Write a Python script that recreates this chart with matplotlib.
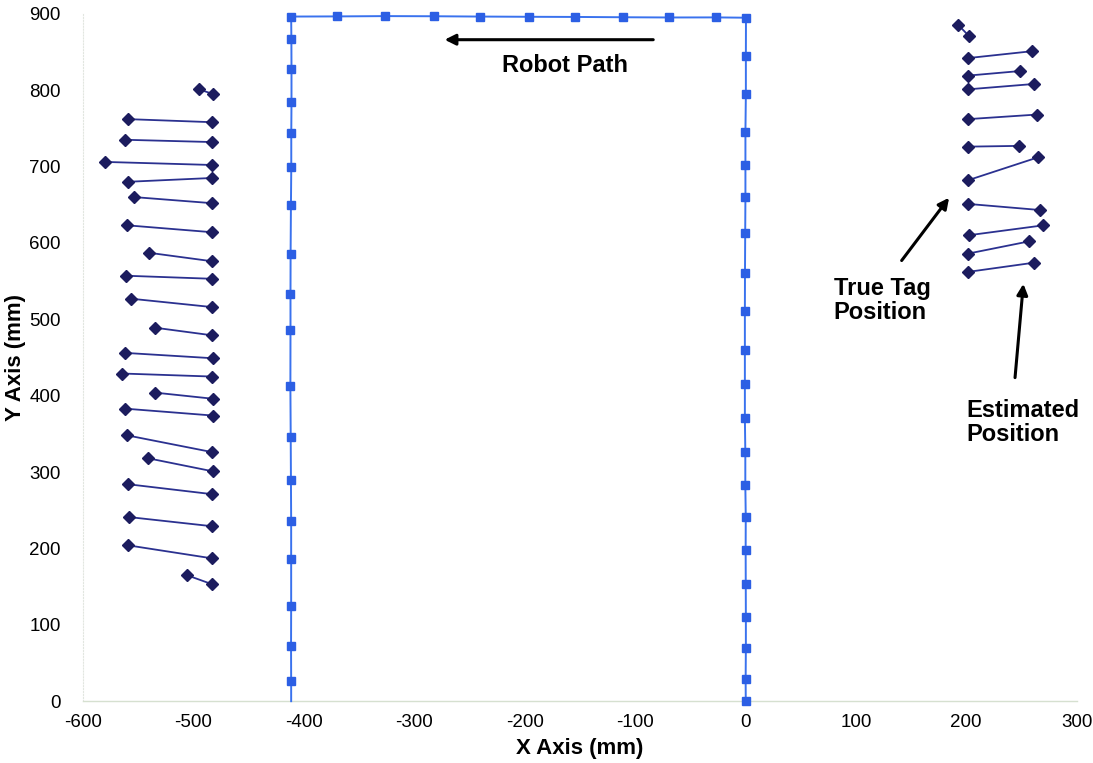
import matplotlib.pyplot as plt

'''
Tag localisation along the robot path: true tag positions vs the estimates
'''

# robot path, walked up the right side, across the top, down the left side (mm)
path_x = [0.3, 0.2, 0.4, 0.4, 0.3, 0.2, 0.3, -0.1, -0.1, -0.5, -0.5, -0.5, -0.5, -0.4, -0.2, 0.0, 0.0, 0.0, 0.4, 0.4, 0.5,
          -26.8, -69.2, -110.7, -154.2, -195.6, -240.5, -282.0, -326.1, -370.0, -411.5,
          -411.3, -411.2, -411.2, -411.4, -411.4, -411.7, -412.0, -412.1, -412.1, -412.2, -411.9, -411.7, -411.5, -411.5,
          -411.5, -411.6, -411.5]
path_y = [0, 28.5, 70, 109.6, 153.3, 197.8, 241.5, 283, 326.5, 371, 415.1, 459.6, 511.1, 560.8, 613.6, 660.3, 701.7,
          745.3, 794.6, 844.7, 894.8,
          895.2, 895.1, 895.4, 895.8, 896.0, 896.3, 896.7, 896.9, 896.5, 896.3,
          867, 827.3, 784.2, 743.6, 698.7, 649, 585.3, 533, 485.7, 412.1, 345.4, 289.9, 236.3, 186.4, 124.9, 72.6, 26]

# tags on the left wall
left_true_x = [-482.5, -483.0, -482.8, -483.3, -482.8, -483.3, -483.5, -483.4, -483.0, -483.3, -483.1,
               -482.6, -482.9, -482.7, -482.7, -482.8, -482.7, -482.9, -482.8, -483.1, -482.9]
left_true_y = [795, 758, 732, 702, 685, 652, 614, 576, 553, 516, 479, 449, 425, 396, 374, 326, 301, 271, 229, 187, 153]
left_est_x = [-495, -559, -562, -580, -559, -554, -560, -540, -561, -557, -535,
              -562, -565, -535, -562, -560, -541, -559, -558, -559, -506]
left_est_y = [801, 762, 735, 706, 680, 660, 623, 587, 557, 527, 489, 456, 429, 404, 383, 348, 318, 284, 241, 204, 165]

# tags on the right wall
right_true_x = [202.4, 202.0, 201.6, 201.5, 201.5, 201.6, 201.6, 201.8, 202.2, 201.8, 201.5]
right_true_y = [871, 842, 819, 801, 762, 726, 682, 651, 610, 586, 562]
right_est_x = [193, 260, 249, 261, 264, 248, 265, 267, 270, 257, 261]
right_est_y = [885, 851, 825, 808, 768, 727, 712, 643, 623, 602, 574]

path_color = '#3a72ee'
path_marker = '#2c5fe4'
tag_line = '#2b3190'
tag_marker = '#1c1c5e'

plt.rcParams['axes.unicode_minus'] = False

fig = plt.figure(figsize=(10.93, 7.63), dpi=100)
ax = fig.add_axes([0.076, 0.081, 0.909, 0.901])

# path: last leg runs on down to the x axis
ax.plot(path_x + [path_x[-1]], path_y + [0], color=path_color, lw=1.4,
        marker='s', markersize=6, markerfacecolor=path_marker, markeredgecolor=path_marker,
        markevery=slice(0, len(path_x)), clip_on=False, zorder=3)

# one segment per tag, estimate -> true position
for ex, ey, tx, ty in zip(left_est_x + right_est_x, left_est_y + right_est_y,
                          left_true_x + right_true_x, left_true_y + right_true_y):
    ax.plot([ex, tx], [ey, ty], color=tag_line, lw=1.3, marker='D', markersize=5.8,
            markerfacecolor=tag_marker, markeredgecolor=tag_marker, clip_on=False, zorder=4)

bold = dict(fontsize=17, fontweight='bold', family='Liberation Sans', color='black')
ax.annotate('', xy=(-275, 866), xytext=(-81, 866),
            arrowprops=dict(arrowstyle='-|>', color='black', lw=2.2, mutation_scale=16))
ax.text(-163, 832, 'Robot Path', ha='center', va='center', **bold)

ax.annotate('', xy=(186, 662), xytext=(140, 574),
            arrowprops=dict(arrowstyle='-|>', color='black', lw=2.2, mutation_scale=16))
ax.text(80, 525, 'True Tag\nPosition', ha='left', va='center', linespacing=1.05, **bold)

ax.annotate('', xy=(252, 550), xytext=(244, 420),
            arrowprops=dict(arrowstyle='-|>', color='black', lw=2.2, mutation_scale=16))
ax.text(200, 365, 'Estimated\nPosition', ha='left', va='center', linespacing=1.05, **bold)

ax.set_xlim(-600, 300)
ax.set_ylim(0, 900)
ax.set_xticks(range(-600, 301, 100))
ax.set_yticks(range(0, 901, 100))
ax.tick_params(axis='x', length=0, labelsize=13.5, pad=9)
ax.tick_params(axis='y', length=0, labelsize=13.5, pad=16)
for lab in ax.get_xticklabels() + ax.get_yticklabels():
    lab.set_family('Liberation Sans')

ax.set_xlabel('X Axis (mm)', fontsize=16, fontweight='bold', family='Liberation Sans', labelpad=5)
ax.set_ylabel('Y Axis (mm)', fontsize=16, fontweight='bold', family='Liberation Sans')
ax.yaxis.set_label_coords(-0.057, 0.5)

ax.spines['top'].set_visible(False)
ax.spines['right'].set_visible(False)
ax.spines['bottom'].set_color('#d6e0d0')
ax.spines['bottom'].set_linewidth(1.0)
ax.spines['left'].set_color('#e2e6e0')
ax.spines['left'].set_linestyle(':')
ax.spines['left'].set_linewidth(0.8)

fig.savefig('out.png', dpi=100)
